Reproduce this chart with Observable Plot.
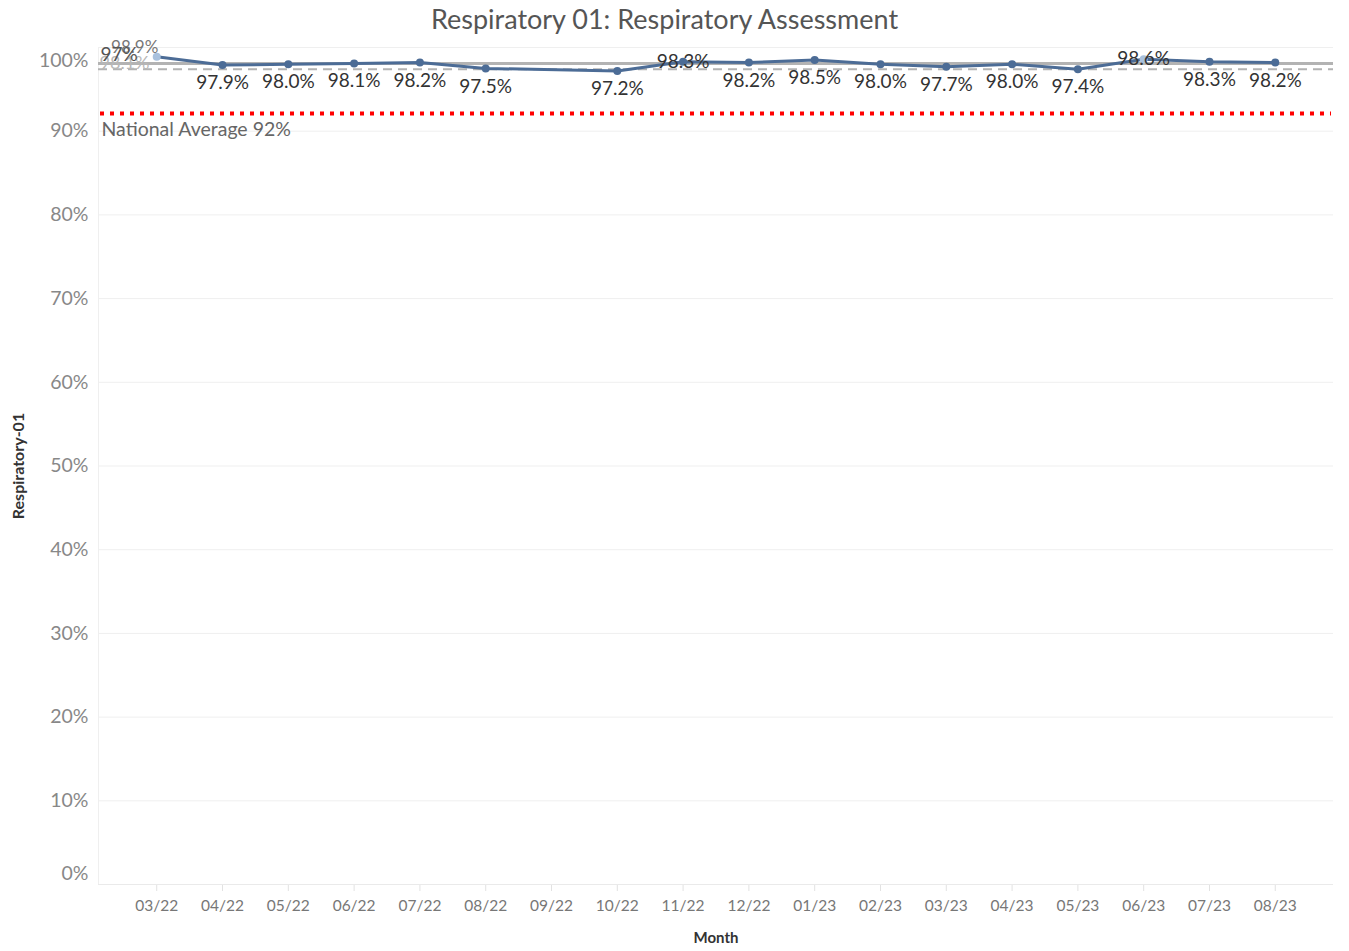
<!DOCTYPE html>
<html>
<head>
<meta charset="utf-8">
<script src="https://cdn.jsdelivr.net/npm/d3@7"></script>
<script src="https://cdn.jsdelivr.net/npm/@observablehq/plot@0.6"></script>
<style>
  html, body { margin: 0; padding: 0; background: #fff; }
  #title { height: 38px; line-height: 38px; text-align: center; font-family: Lato, "Open Sans", sans-serif; font-size: 27px; color: #555; width: 1329px; padding-right: 20px; }
  #chart svg { overflow: visible; display: block; }
</style>
</head>
<body>
<div id="title">Respiratory 01: Respiratory Assessment</div>
<div id="chart"></div>
<script>
const months = ["03/22","04/22","05/22","06/22","07/22","08/22","09/22","10/22","11/22","12/22","01/23","02/23","03/23","04/23","05/23","06/23","07/23","08/23"];
const rates = [98.9, 97.9, 98.0, 98.1, 98.2, 97.5, null, 97.2, 98.3, 98.2, 98.5, 98.0, 97.7, 98.0, 97.4, 98.6, 98.3, 98.2];
const highlightedMonths = ["03/22", "06/23"];
const labelOnLineMonths = ["11/22", "06/23"];
const hiddenLabelMonths = ["03/22"];
const nationalAverage = 92;
const nationalAverageLabel = "National Average 92%";
const averageLine = 98.1;
const lowerLine = 97.4;
const lowerLineLabel = "97%";
const yTicks = [0, 10, 20, 30, 40, 50, 60, 70, 80, 90, 100];

const data = months.map((m, i) => ({month: m, rate: rates[i]})).filter(d => d.rate != null);
const fmt = d => d.rate.toFixed(1) + "%";
const below = data.filter(d => !labelOnLineMonths.includes(d.month) && !hiddenLabelMonths.includes(d.month));
const onLine = data.filter(d => labelOnLineMonths.includes(d.month));
const hidden = data.filter(d => hiddenLabelMonths.includes(d.month));

const font = "Lato, 'Open Sans', sans-serif";
const lineColor = "#4c6c96";

const chart = Plot.plot({
  width: 1349,
  height: 913,
  marginTop: 9,
  marginBottom: 67,
  marginLeft: 98,
  marginRight: 16,
  style: {fontFamily: font, background: "#fff", overflow: "visible"},
  x: {type: "point", domain: months, padding: 0.885, round: false, label: null},
  y: {domain: [0, 100], label: null, axis: null},
  marks: [
    Plot.ruleY(yTicks, {stroke: "#efefef", strokeWidth: 1}),
    Plot.frame({anchor: "left", stroke: "#efefef"}),
    Plot.ruleY([averageLine], {stroke: "#b3b3b3", strokeWidth: 3}),
    Plot.ruleY([lowerLine], {stroke: "#b3b3b3", strokeWidth: 2, strokeDasharray: "9 6"}),
    Plot.ruleY([nationalAverage], {stroke: "#ff0000", strokeWidth: 4, strokeDasharray: "4 6", insetLeft: 2, insetRight: 2, dy: -1}),
    Plot.text([nationalAverageLabel], {frameAnchor: "left", y: () => nationalAverage, text: d => d, textAnchor: "start", dx: 3, dy: 15, fill: "#666", fontSize: 19.5}),
    Plot.text([averageLine], {frameAnchor: "left", y: d => d, text: d => d.toFixed(1) + "%", textAnchor: "start", dx: 1, dy: 0, fill: "#b8b8b8", fontSize: 18}),
    Plot.text(hidden, {x: "month", y: "rate", text: fmt, dx: -22, dy: -9, fill: "#777", fontSize: 17}),
    Plot.text([lowerLine], {frameAnchor: "left", y: d => d, text: () => lowerLineLabel, textAnchor: "start", dx: 2, dy: -14, fill: "#555", fontSize: 19}),
    Plot.line(data, {x: "month", y: "rate", stroke: lineColor, strokeWidth: 3}),
    Plot.dot(data, {x: "month", y: "rate", r: 4, fill: d => highlightedMonths.includes(d.month) ? "#a9c1dd" : lineColor, stroke: "none"}),
    Plot.text(below, {x: "month", y: "rate", text: fmt, dy: 18, fill: "#333", fontSize: 19}),
    Plot.text(onLine, {x: "month", y: "rate", text: fmt, dy: 0, fill: "#333", fontSize: 19}),
    Plot.text(yTicks.filter(t => t > 0 && t < 100), {y: d => d, frameAnchor: "left", text: d => d + "%", textAnchor: "end", dx: -10, fill: "#888", fontSize: 19.5}),
    Plot.text([100], {y: d => d, frameAnchor: "left", text: d => d + "%", textAnchor: "end", dx: -10, dy: 13, fill: "#888", fontSize: 19.5}),
    Plot.text([0], {y: d => d, frameAnchor: "left", text: d => d + "%", textAnchor: "end", dx: -10, dy: -11, fill: "#888", fontSize: 19.5}),
    Plot.axisX({tickSize: 7, tickPadding: 8, stroke: "#e2e2e2", fill: "#777", fontSize: 15.5, label: null}),
    Plot.ruleY([0], {stroke: "#eaeaea"}),
    Plot.text(["Month"], {frameAnchor: "bottom", text: d => d, dy: 58, fill: "#333", fontSize: 15, fontWeight: "bold"}),
    Plot.text(["Respiratory-01"], {frameAnchor: "left", text: d => d, rotate: -90, textAnchor: "middle", dx: -80, fill: "#333", fontSize: 16, fontWeight: "bold"})
  ]
});
document.getElementById("chart").appendChild(chart);
</script>
</body>
</html>
